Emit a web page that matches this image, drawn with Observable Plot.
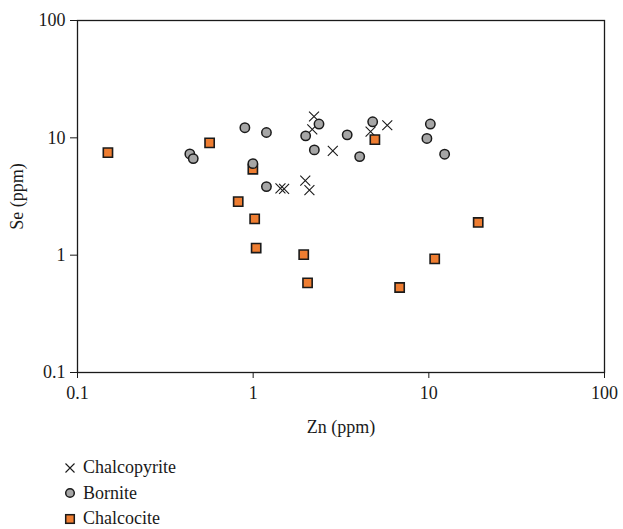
<!DOCTYPE html>
<html><head><meta charset="utf-8">
<script src="https://cdn.jsdelivr.net/npm/d3@7"></script>
<script src="https://cdn.jsdelivr.net/npm/@observablehq/plot@0.6"></script>
<style>
body{margin:0;background:#fff;font-family:"Liberation Serif",serif;color:#1a1a1a;}
#legend{margin-left:63px;margin-top:10px;font-size:18px;}
.row{display:flex;align-items:center;height:25.5px;}
.row svg{margin-right:6px;}
</style></head><body>
<div id="chart"></div>
<div id="legend"></div>
<script>
const seriesNames = ["Chalcopyrite", "Bornite", "Chalcocite"];
const chalcopyriteZn = [2.22, 2.17, 2.84, 4.66, 5.80, 1.98, 2.09, 1.43, 1.50];
const chalcopyriteSe = [15.2, 11.8, 7.73, 11.3, 12.8, 4.32, 3.58, 3.71, 3.67];
const borniteZn = [0.436, 0.456, 0.897, 1.19, 0.996, 1.19, 1.99, 2.37, 2.23, 3.43, 4.79, 4.04, 10.2, 9.75, 12.3];
const borniteSe = [7.29, 6.65, 12.2, 11.1, 6.03, 3.84, 10.4, 13.1, 7.89, 10.6, 13.7, 6.92, 13.1, 9.88, 7.25];
const chalcociteZn = [0.149, 0.565, 0.996, 0.822, 1.02, 1.04, 1.94, 2.04, 4.93, 6.82, 10.8, 19.1];
const chalcociteSe = [7.48, 9.05, 5.40, 2.86, 2.04, 1.15, 1.01, 0.581, 9.65, 0.530, 0.930, 1.90];
const xTicks = [0.1, 1, 10, 100];
const yTicks = [0.1, 1, 10, 100];

const toRows = (zn, se, name) => zn.map((z, i) => ({zn: z, se: se[i], mineral: name}));
const chalcopyrite = toRows(chalcopyriteZn, chalcopyriteSe, seriesNames[0]);
const bornite = toRows(borniteZn, borniteSe, seriesNames[1]);
const chalcocite = toRows(chalcociteZn, chalcociteSe, seriesNames[2]);

const chart = Plot.plot({
  width: 623, height: 445,
  marginLeft: 77, marginRight: 19, marginTop: 20, marginBottom: 73,
  style: {fontFamily: "Liberation Serif", fontSize: "18px", color: "#1a1a1a", background: "#fff"},
  x: {type: "log", domain: [0.1, 100]},
  y: {type: "log", domain: [0.1, 100]},
  marks: [
    Plot.frame({stroke: "#1a1a1a", strokeWidth: 1.3}),
    Plot.axisX({ticks: xTicks, tickFormat: d => String(d), tickSize: 6, tickPadding: 8, label: "Zn (ppm)", labelAnchor: "center", labelArrow: "none", labelOffset: 60}),
    Plot.axisY({ticks: yTicks, tickFormat: d => String(d), tickSize: 7, tickPadding: 5, label: "Se (ppm)", labelAnchor: "center", labelArrow: "none", labelOffset: 67}),
    Plot.dot(chalcopyrite, {x: "zn", y: "se", symbol: "times", r: 4.6, stroke: "#1a1a1a", strokeWidth: 1.1}),
    Plot.dot(chalcocite, {x: "zn", y: "se", symbol: "square", r: 5.2, fill: "#ee7d31", stroke: "#1a1a1a", strokeWidth: 1.6}),
    Plot.dot(bornite, {x: "zn", y: "se", symbol: "circle", r: 4.7, fill: "#a6a6a6", stroke: "#1a1a1a", strokeWidth: 1.5})
  ]
});
document.getElementById("chart").appendChild(chart);

const legendShapes = [
  '<path d="M-4.5,-4.5L4.5,4.5M-4.5,4.5L4.5,-4.5" stroke="#1a1a1a" stroke-width="1.1" fill="none"/>',
  '<circle r="4.3" fill="#a6a6a6" stroke="#1a1a1a" stroke-width="1.5"/>',
  '<rect x="-4.3" y="-4.3" width="8.6" height="8.6" fill="#ee7d31" stroke="#1a1a1a" stroke-width="1.5"/>'
];
const legend = document.getElementById("legend");
seriesNames.forEach((name, i) => {
  const row = document.createElement("div");
  row.className = "row";
  row.innerHTML = `<svg width="14" height="14" viewBox="-7 -7 14 14">${legendShapes[i]}</svg><span>${name}</span>`;
  legend.appendChild(row);
});
</script>
</body></html>
